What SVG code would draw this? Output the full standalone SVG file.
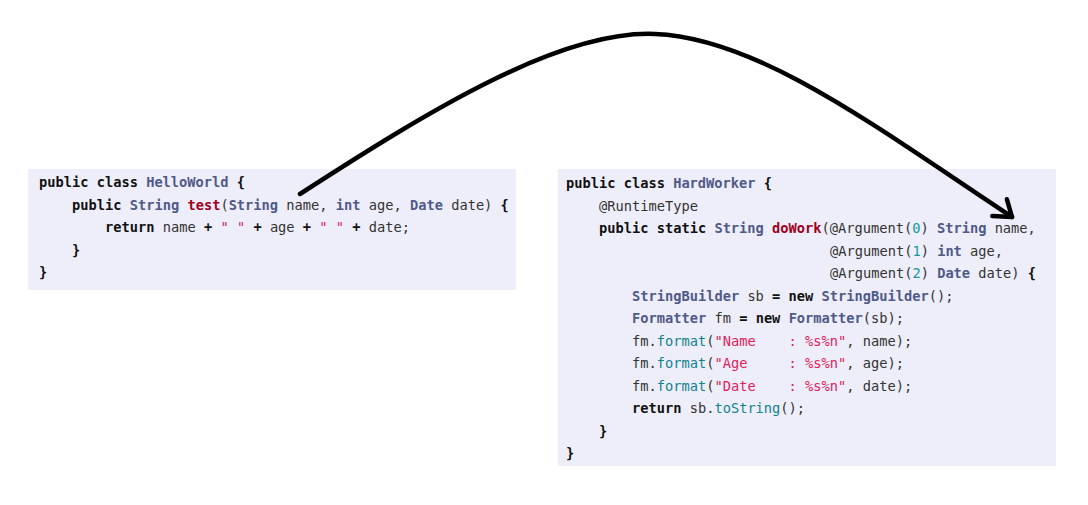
<svg xmlns="http://www.w3.org/2000/svg" width="1088" height="505" viewBox="0 0 1088 505">
<style>
.box{fill:#eeeefa;}
.code{font-family:"DejaVu Sans Mono","Liberation Mono",monospace;font-size:13.7px;fill:#333333;}
.k{font-weight:bold;fill:#111111;}
.t{font-weight:bold;fill:#4f5a88;}
.f{font-weight:bold;fill:#a00020;}
.s{fill:#e0225a;}
.n{fill:#119999;}
.m{fill:#11828f;}
.conn{fill:none;stroke:#000;stroke-width:4.5;stroke-linecap:round;}
</style>
<defs>
<marker id="arrow" markerUnits="userSpaceOnUse" markerWidth="40" markerHeight="40" refX="0" refY="0" orient="auto" overflow="visible">
<path d="M-14,-12 L0,0 L-17,10" fill="none" stroke="#000" stroke-width="4.5" stroke-linecap="round" stroke-linejoin="round"/>
</marker>
</defs>
<rect width="1088" height="505" fill="#ffffff"/>
<g id="hello-world">
<rect class="box" x="28" y="169" width="488" height="121"/>
<text class="code" xml:space="preserve" x="39" y="187"><tspan class="k">public class</tspan> <tspan class="t">HelloWorld</tspan> <tspan class="k">{</tspan></text>
<text class="code" xml:space="preserve" x="72" y="209.5"><tspan class="k">public</tspan> <tspan class="t">String</tspan> <tspan class="f">test</tspan>(<tspan class="t">String</tspan> name, <tspan class="t">int</tspan> age, <tspan class="t">Date</tspan> date) <tspan class="k">{</tspan></text>
<text class="code" xml:space="preserve" x="105" y="232"><tspan class="k">return</tspan> name <tspan class="k">+</tspan> <tspan class="s">" "</tspan> <tspan class="k">+</tspan> age <tspan class="k">+</tspan> <tspan class="s">" "</tspan> <tspan class="k">+</tspan> date;</text>
<text class="code" xml:space="preserve" x="72" y="254.5"><tspan class="k">}</tspan></text>
<text class="code" xml:space="preserve" x="39" y="277"><tspan class="k">}</tspan></text>
</g>
<g id="hard-worker">
<rect class="box" x="558" y="169" width="498" height="297"/>
<text class="code" xml:space="preserve" x="566" y="188"><tspan class="k">public class</tspan> <tspan class="t">HardWorker</tspan> <tspan class="k">{</tspan></text>
<text class="code" xml:space="preserve" x="599" y="210.5">@RuntimeType</text>
<text class="code" xml:space="preserve" x="599" y="233"><tspan class="k">public static</tspan> <tspan class="t">String</tspan> <tspan class="f">doWork</tspan>(@Argument(<tspan class="n">0</tspan>) <tspan class="t">String</tspan> name,</text>
<text class="code" xml:space="preserve" x="830" y="255.5">@Argument(<tspan class="n">1</tspan>) <tspan class="t">int</tspan> age,</text>
<text class="code" xml:space="preserve" x="830" y="278">@Argument(<tspan class="n">2</tspan>) <tspan class="t">Date</tspan> date) <tspan class="k">{</tspan></text>
<text class="code" xml:space="preserve" x="632" y="300.5"><tspan class="t">StringBuilder</tspan> sb <tspan class="k">=</tspan> <tspan class="k">new</tspan> <tspan class="t">StringBuilder</tspan>();</text>
<text class="code" xml:space="preserve" x="632" y="323"><tspan class="t">Formatter</tspan> fm <tspan class="k">=</tspan> <tspan class="k">new</tspan> <tspan class="t">Formatter</tspan>(sb);</text>
<text class="code" xml:space="preserve" x="632" y="345.5">fm.<tspan class="m">format</tspan>(<tspan class="s">"Name    : %s%n"</tspan>, name);</text>
<text class="code" xml:space="preserve" x="632" y="368">fm.<tspan class="m">format</tspan>(<tspan class="s">"Age     : %s%n"</tspan>, age);</text>
<text class="code" xml:space="preserve" x="632" y="390.5">fm.<tspan class="m">format</tspan>(<tspan class="s">"Date    : %s%n"</tspan>, date);</text>
<text class="code" xml:space="preserve" x="632" y="413"><tspan class="k">return</tspan> sb.<tspan class="m">toString</tspan>();</text>
<text class="code" xml:space="preserve" x="599" y="435.5"><tspan class="k">}</tspan></text>
<text class="code" xml:space="preserve" x="566" y="458"><tspan class="k">}</tspan></text>
</g>
<g id="connectors">
<path class="conn" d="M300,194 C430,110 560,30 655,34 C760,38 880,130 1012,217" marker-end="url(#arrow)"/>
</g>
</svg>
